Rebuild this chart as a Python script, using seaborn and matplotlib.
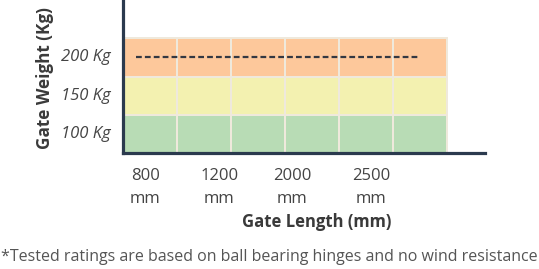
import numpy as np
import pandas as pd
import matplotlib
matplotlib.use("Agg")
import matplotlib.pyplot as plt
from matplotlib.colors import ListedColormap
import seaborn as sns

# ---- data ----
weight_labels = ["200 Kg", "150 Kg", "100 Kg"]          # top to bottom
band_colors = ["#fdc89b", "#f3f1b0", "#b8dcb5"]       # orange, yellow, green
n_columns = 6
length_labels = ["800\nmm", "1200\nmm", "2000\nmm", "2500\nmm"]
length_positions = [0.41, 1.78, 3.13, 4.59]
rating_start = 0.24
rating_end = 5.5
rating_level = "200 Kg"

sns.set_theme(style="white")
plt.rcParams["font.family"] = ["Open Sans", "DejaVu Sans"]

fig = plt.figure(figsize=(5.39, 2.69), dpi=100)
ax = fig.add_axes([123 / 539, 1 - 153 / 269, 362 / 539, 153 / 269])

grid = pd.DataFrame(
    np.repeat(np.arange(len(weight_labels))[:, None], n_columns, axis=1),
    index=weight_labels,
)
sns.heatmap(grid, ax=ax, cmap=ListedColormap(band_colors), cbar=False,
            linewidths=1.2, linecolor="#efe9dc", vmin=-0.5,
            vmax=len(weight_labels) - 0.5)

row = weight_labels.index(rating_level) + 0.5
line_df = pd.DataFrame({"x": [rating_start, rating_end], "y": [row, row]})
sns.lineplot(data=line_df, x="x", y="y", ax=ax, color="#333842",
             linewidth=1.6)
ax.lines[-1].set_linestyle((0, (2.6, 1.4)))

ax.set_xlim(0, 362 / 54)
ax.set_ylim(len(weight_labels), -1)

ax.set_yticks(np.arange(len(weight_labels)) + 0.5)
ax.set_yticklabels(weight_labels, fontsize=12, style="italic",
                   color="#444444", rotation=0)
ax.set_xticks(length_positions)
ax.set_xticklabels(length_labels, fontsize=12, color="#444444",
                   linespacing=1.55, rotation=0)
ax.tick_params(axis="x", length=0, pad=11)
ax.tick_params(axis="y", length=0, pad=9)

ax.set_xlabel("")
ax.set_ylabel("")
fig.text(317 / 539, 1 - 222 / 269, "Gate Length (mm)", fontsize=12,
         fontweight="bold", color="#3a3a3a", ha="center", va="center")
fig.text(45 / 539, 1 - 78 / 269, "Gate Weight (Kg)", fontsize=12.3,
         fontweight="bold", color="#3a3a3a", ha="center", va="center",
         rotation=90)

for side in ["top", "right"]:
    ax.spines[side].set_visible(False)
for side in ["left", "bottom"]:
    ax.spines[side].set_visible(True)
    ax.spines[side].set_color("#2b3a4e")
    ax.spines[side].set_linewidth(2.3)

fig.text(0.5, 1 - 257 / 269,
         "*Tested ratings are based on ball bearing hinges and no wind resistance",
         fontsize=11.5, color="#555555", ha="center", va="center")

fig.savefig("out.png", dpi=100)
